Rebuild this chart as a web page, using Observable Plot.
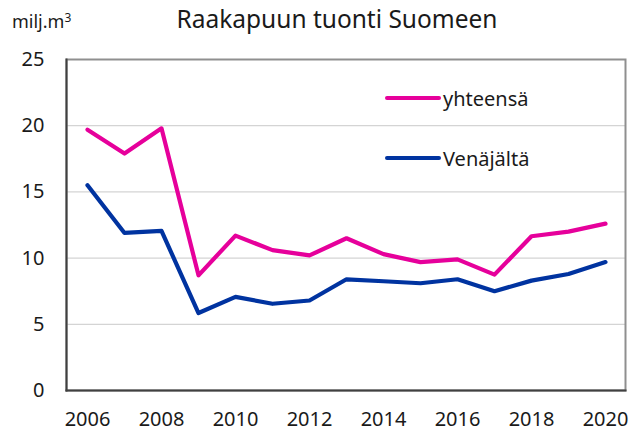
<!DOCTYPE html>
<html>
<head>
<meta charset="utf-8">
<script src="https://cdn.jsdelivr.net/npm/d3@7"></script>
<script src="https://cdn.jsdelivr.net/npm/@observablehq/plot@0.6"></script>
<style>
  body { margin: 0; background: #fff; font-family: "Noto Sans", sans-serif; }
  #wrap { position: relative; width: 631px; height: 433px; }
  #title { position: absolute; left: 0; width: 674px; top: 2px; text-align: center; font-size: 24.5px; color: #1a1a1a; line-height: 34px; }
  #unit { position: absolute; left: 12px; top: 7px; font-size: 18px; color: #1a1a1a; line-height: 28px; }
  #unit sup { font-size: 12px; vertical-align: 6px; line-height: 0; }
  .leg { position: absolute; left: 385px; font-size: 20px; color: #1a1a1a; display: flex; align-items: center; height: 30px; }
  .leg span.sw { display: inline-block; width: 56px; height: 4px; border-radius: 2px; margin-right: 2px; }
  #chart { position: absolute; left: 0; top: 0; }
</style>
</head>
<body>
<div id="wrap">
  <div id="chart"></div>
  <div id="unit">milj.m<sup>3</sup></div>
  <div id="title">Raakapuun tuonti Suomeen</div>
  <div id="legend"></div>
</div>
<script>
const years = [2006, 2007, 2008, 2009, 2010, 2011, 2012, 2013, 2014, 2015, 2016, 2017, 2018, 2019, 2020];
const yhteensa = [19.7, 17.9, 19.8, 8.7, 11.7, 10.6, 10.2, 11.5, 10.3, 9.7, 9.9, 8.75, 11.65, 12.0, 12.6];
const venajalta = [15.5, 11.9, 12.05, 5.85, 7.07, 6.55, 6.8, 8.4, 8.25, 8.1, 8.4, 7.5, 8.3, 8.8, 9.7];
const xTicks = [2006, 2008, 2010, 2012, 2014, 2016, 2018, 2020];
const yTicks = [0, 5, 10, 15, 20, 25];
const gridValues = [5, 10, 15, 20];
const seriesNames = ["yhteensä", "Venäjältä"];
const seriesColors = ["#E6009B", "#0033A0"];

const rows = [];
years.forEach((yr, i) => {
  rows.push({year: yr, value: yhteensa[i], series: seriesNames[0]});
  rows.push({year: yr, value: venajalta[i], series: seriesNames[1]});
});

const chart = Plot.plot({
  width: 631,
  height: 433,
  marginLeft: 66,
  marginRight: 6,
  marginTop: 59,
  marginBottom: 43,
  style: {fontFamily: "Noto Sans, sans-serif", fontSize: "20px", color: "#1a1a1a", background: "transparent"},
  x: {type: "point", domain: years, padding: 0.48, label: null},
  y: {domain: [0, 25], label: null},
  color: {domain: seriesNames, range: seriesColors},
  marks: [
    Plot.ruleY(gridValues, {stroke: "#d4d4d4", strokeWidth: 1.2}),
    Plot.frame({stroke: "#8f8f8f", strokeWidth: 2}),
    Plot.frame({anchor: "left", stroke: "#404040", strokeWidth: 2}),
    Plot.frame({anchor: "bottom", stroke: "#404040", strokeWidth: 2}),
    Plot.axisY({ticks: yTicks, tickSize: 0, tickPadding: 22, fontSize: 20, label: null}),
    Plot.axisX({ticks: xTicks, tickSize: 0, tickPadding: 21, fontSize: 20, label: null, tickFormat: d => String(d)}),
    Plot.line(rows, {x: "year", y: "value", z: "series", stroke: "series", strokeWidth: 4.2, strokeLinejoin: "round", strokeLinecap: "round"})
  ]
});
document.getElementById("chart").appendChild(chart);

const legend = document.getElementById("legend");
const legTops = [83, 143];
seriesNames.forEach((name, i) => {
  const d = document.createElement("div");
  d.className = "leg";
  d.style.top = legTops[i] + "px";
  d.innerHTML = `<span class="sw" style="background:${seriesColors[i]}"></span>${name}`;
  legend.appendChild(d);
});
</script>
</body>
</html>
